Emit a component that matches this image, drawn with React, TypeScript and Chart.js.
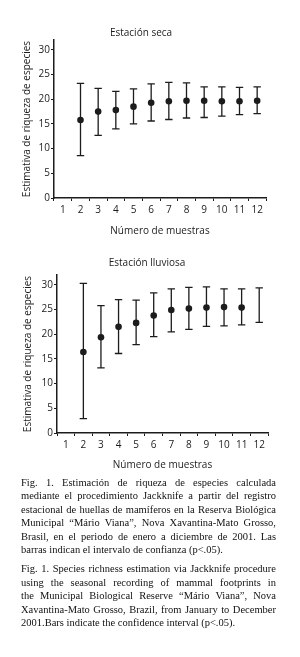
import React, { useEffect, useRef } from 'react';
import { Chart, registerables } from 'chart.js';

Chart.register(...registerables);

// ---------- data ----------
const samples = ['1', '2', '3', '4', '5', '6', '7', '8', '9', '10', '11', '12'];
const yTicks = [0, 5, 10, 15, 20, 25, 30];

const dryMean = [null, 15.8, 17.5, 17.8, 18.5, 19.3, 19.6, 19.7, 19.7, 19.6, 19.6, 19.7];
const dryLow = [null, 8.6, 12.7, 14.0, 15.0, 15.6, 15.9, 16.2, 16.3, 16.6, 16.9, 17.1];
const dryHigh = [null, 23.2, 22.2, 21.6, 22.1, 23.1, 23.4, 23.3, 22.5, 22.5, 22.4, 22.5];

const wetMean = [null, 16.4, 19.4, 21.5, 22.3, 23.8, 24.9, 25.2, 25.4, 25.5, 25.4, null];
const wetLow = [null, 2.9, 13.2, 16.1, 17.9, 19.5, 20.5, 21.0, 21.6, 21.7, 21.9, 22.4];
const wetHigh = [null, 30.3, 25.8, 27.0, 26.9, 28.4, 29.2, 29.5, 29.6, 29.2, 29.2, 29.4];

const captionEs = [
  'Fig. 1. Estimación de riqueza de especies calculada',
  'mediante el procedimiento Jackknife a partir del registro',
  'estacional de huellas de mamíferos en la Reserva Biológica',
  'Municipal “Mário Viana”, Nova Xavantina-Mato Grosso,',
  'Brasil, en el periodo de enero a diciembre de 2001. Las',
  'barras indican el intervalo de confianza (p<.05).',
];
const captionEn = [
  'Fig. 1. Species richness estimation via Jackknife procedure',
  'using the seasonal recording of mammal footprints in',
  'the Municipal Biological Reserve “Mário Viana”, Nova',
  'Xavantina-Mato Grosso, Brazil, from January to December',
  '2001.Bars indicate the confidence interval (p<.05).',
];

const INK = '#1c1c1c';
const FONT = "'Open Sans', sans-serif";

const errorBarPlugin = {
  id: 'errorBars',
  beforeDatasetsDraw(chart: any, _args: any, opts: any) {
    const { ctx, scales } = chart;
    const x = scales.x;
    const y = scales.y;
    const low: (number | null)[] = opts.low || [];
    const high: (number | null)[] = opts.high || [];
    ctx.save();
    ctx.strokeStyle = INK;
    ctx.lineWidth = 1.3;
    const cap = 3.7;
    low.forEach((lo, i) => {
      const hi = high[i];
      if (lo == null || hi == null) return;
      const px = x.getPixelForValue(i);
      const y1 = y.getPixelForValue(lo);
      const y2 = y.getPixelForValue(hi);
      ctx.beginPath();
      ctx.moveTo(px, y1);
      ctx.lineTo(px, y2);
      ctx.moveTo(px - cap, y1);
      ctx.lineTo(px + cap, y1);
      ctx.moveTo(px - cap, y2);
      ctx.lineTo(px + cap, y2);
      ctx.stroke();
    });
    ctx.restore();
  },
};

const panelTitlePlugin = {
  id: 'panelTitle',
  afterDraw(chart: any, _args: any, opts: any) {
    if (!opts || !opts.text) return;
    const { ctx } = chart;
    ctx.save();
    ctx.fillStyle = INK;
    ctx.font = `${opts.size || 10}px ${FONT}`;
    ctx.textAlign = 'center';
    ctx.textBaseline = 'middle';
    ctx.fillText(opts.text, opts.x, opts.y);
    ctx.restore();
  },
};

type PanelProps = {
  top: number;
  height: number;
  title: string;
  titleX: number;
  titleY: number;
  mean: (number | null)[];
  low: (number | null)[];
  high: (number | null)[];
  areaLeft: number;
  areaRight: number;
  areaTop: number;
  areaBottom: number;
  yTitleX: number;
  xTitleY: number;
};

function Panel(p: PanelProps) {
  const ref = useRef<HTMLCanvasElement | null>(null);
  useEffect(() => {
    if (!ref.current) return;
    const lh = 12;
    const padL = Math.round(p.yTitleX - lh / 2);
    const padB = Math.max(0, Math.round(p.height - p.xTitleY - lh / 2));
    const chart = new Chart(ref.current, {
      type: 'line',
      data: {
        labels: samples,
        datasets: [
          {
            data: p.mean as any,
            showLine: false,
            pointRadius: 3.3,
            pointBackgroundColor: INK,
            pointBorderColor: INK,
            pointBorderWidth: 0,
          },
        ],
      },
      plugins: [errorBarPlugin, panelTitlePlugin],
      options: {
        responsive: false,
        animation: false,
        events: [],
        layout: {
          padding: { left: padL, right: 300 - p.areaRight, top: p.areaTop, bottom: padB },
        },
        plugins: {
          legend: { display: false },
          tooltip: { enabled: false },
          title: { display: false },
          errorBars: { low: p.low, high: p.high },
          panelTitle: { text: p.title, x: p.titleX, y: p.titleY, size: 10 },
        } as any,
        scales: {
          x: {
            type: 'category',
            offset: true,
            grid: {
              offset: true,
              drawOnChartArea: false,
              drawTicks: true,
              tickLength: 3,
              color: INK,
              lineWidth: 1,
            },
            border: { display: true, color: INK, width: 1.5 },
            ticks: {
              color: INK,
              font: { family: FONT, size: 10 },
              padding: 3,
              maxRotation: 0,
              autoSkip: false,
            },
            title: {
              display: true,
              text: 'Número de muestras',
              color: INK,
              font: { family: FONT, size: 10, lineHeight: 1.2 },
              padding: { top: 0, bottom: 0 },
            },
            afterFit: (s: any) => {
              s.height = p.height - padB - p.areaBottom;
            },
          },
          y: {
            min: 0,
            max: 32,
            afterBuildTicks: (s: any) => {
              s.ticks = yTicks.map((v) => ({ value: v }));
            },
            grid: {
              drawOnChartArea: false,
              drawTicks: true,
              tickLength: 3,
              color: INK,
              lineWidth: 1,
            },
            border: { display: true, color: INK, width: 1.5 },
            ticks: {
              color: INK,
              font: { family: FONT, size: 10 },
              padding: 1,
            },
            title: {
              display: true,
              text: 'Estimativa de riqueza de especies',
              color: INK,
              font: { family: FONT, size: 10, lineHeight: 1.2 },
              padding: { top: 0, bottom: 0 },
            },
            afterFit: (s: any) => {
              s.width = p.areaLeft - padL;
            },
          },
        },
      },
    });
    return () => chart.destroy();
  }, []);
  return (
    <canvas
      ref={ref}
      width={300}
      height={p.height}
      style={{ position: 'absolute', left: 0, top: p.top, width: 300, height: p.height }}
    />
  );
}

const lineStyle = (last: boolean): React.CSSProperties => ({
  textAlign: last ? 'left' : 'justify',
  textAlignLast: last ? 'left' : 'justify',
  height: 13.5,
  lineHeight: '13.5px',
  overflow: 'hidden',
});

export default function App() {
  return (
    <div style={{ position: 'absolute', left: 0, top: 0, width: 300, height: 657, background: '#fff', overflow: 'hidden' }}>
      <Panel
        top={0}
        height={240}
        title="Estación seca"
        titleX={141}
        titleY={33}
        mean={dryMean}
        low={dryLow}
        high={dryHigh}
        areaLeft={54}
        areaRight={266}
        areaTop={40}
        areaBottom={198}
        yTitleX={27}
        xTitleY={231}
      />
      <Panel
        top={240}
        height={240}
        title="Estación lluviosa"
        titleX={147}
        titleY={23}
        mean={wetMean}
        low={wetLow}
        high={wetHigh}
        areaLeft={57}
        areaRight={268}
        areaTop={35}
        areaBottom={193}
        yTitleX={28}
        xTitleY={225}
      />
      <div
        style={{
          position: 'absolute',
          left: 21,
          top: 475.5,
          width: 255,
          fontFamily: "'Liberation Serif', 'Times New Roman', serif",
          fontSize: 10.5,
          color: '#111',
        }}
      >
        {captionEs.map((t, i) => (
          <div key={'es' + i} style={lineStyle(i === captionEs.length - 1)}>{t}</div>
        ))}
        <div style={{ height: 5.5 }} />
        {captionEn.map((t, i) => (
          <div key={'en' + i} style={lineStyle(i === captionEn.length - 1)}>{t}</div>
        ))}
      </div>
    </div>
  );
}
